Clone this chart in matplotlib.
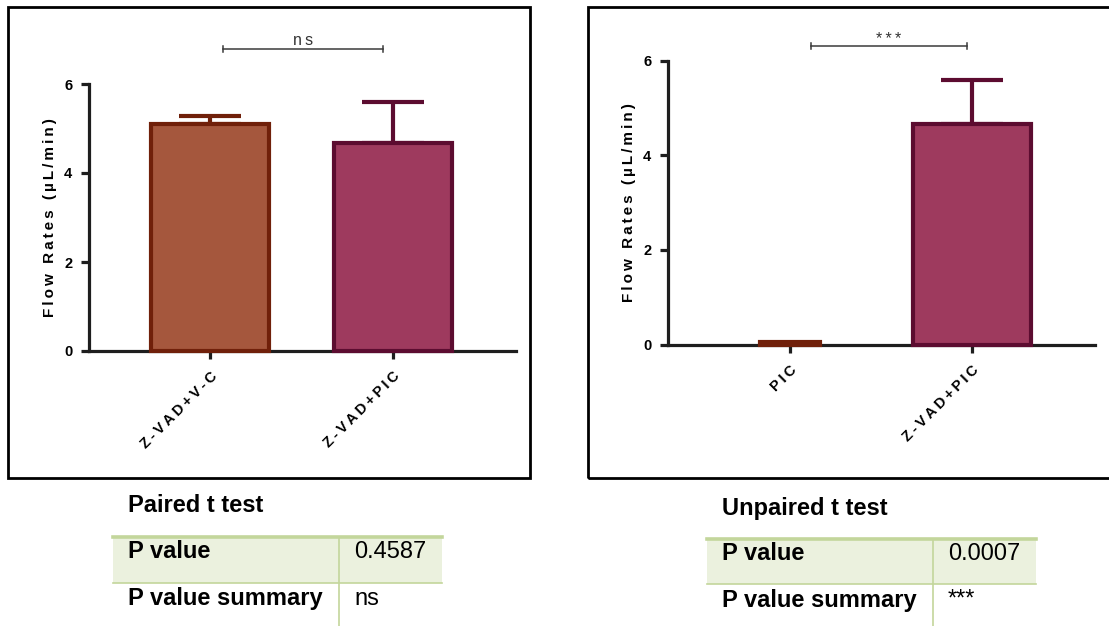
import matplotlib
matplotlib.use("Agg")
import matplotlib.pyplot as plt
from matplotlib.patches import Rectangle
from matplotlib.lines import Line2D

plt.rcParams['font.family'] = ['Liberation Sans', 'DejaVu Sans']

# ---- data ----
left_groups = ["Z-VAD+V-C", "Z-VAD+PIC"]
left_means = [5.10, 4.67]
left_sem = [0.18, 0.93]

right_groups = ["PIC", "Z-VAD+PIC"]
right_means = [0.06, 4.66]
right_sem = [0.0, 0.93]

y_ticks = [0, 2, 4, 6]
y_label = "Flow Rates (\u00b5L/min)"

left_test = "Paired t test"
left_p = "0.4587"
left_summary = "ns"
right_test = "Unpaired t test"
right_p = "0.0007"
right_summary = "***"

# ---- styling ----
W, H = 1109, 626
fill_colors = ["#A5573D", "#9E3A5E"]
edge_colors = ["#70200A", "#5C0C30"]
axis_col = "#1e1e1e"
green_fill = "#EBF1DE"
green_line = "#C3D69B"
THIN = "\u2009"

fig = plt.figure(figsize=(W / 100, H / 100), dpi=100)


def tracked(s):
    """Widen letter tracking the way the graphing package renders labels."""
    return THIN.join(s)


def fx(px):
    return px / W


def fy(py):
    return 1 - py / H


def make_axes(x0, x1, y0, y6, c0, c1):
    ax = fig.add_axes([fx(x0), fy(y0), (x1 - x0) / W, (y0 - y6) / H])
    unit = c1 - c0
    ax.set_xlim((x0 - c0) / unit, (x1 - c0) / unit)
    ax.set_ylim(0, 6)
    for s in ("top", "right"):
        ax.spines[s].set_visible(False)
    for s in ("left", "bottom"):
        ax.spines[s].set_linewidth(2.3)
        ax.spines[s].set_color(axis_col)
    ax.tick_params(axis="both", length=6, width=2.3, color=axis_col)
    ax.tick_params(axis="y", pad=6, labelsize=10.5)
    ax.tick_params(axis="x", pad=7, labelsize=10.5)
    ax.set_yticks(y_ticks)
    for lab in ax.get_yticklabels():
        lab.set_fontweight("bold")
    ax.patch.set_alpha(0)
    return ax


def draw_bars(ax, means, sems, widths, fills, edges, labels):
    xs = list(range(len(means)))
    ax.bar(xs, means, width=widths, color=fills, edgecolor=edges,
           linewidth=3.0, zorder=3, clip_on=False)
    for x, m, e, ec in zip(xs, means, sems, edges):
        if e > 0:
            ax.errorbar([x], [m], yerr=[[0], [e]], fmt="none", ecolor=ec,
                        elinewidth=3.0, capsize=22, capthick=3.0,
                        zorder=2, clip_on=False)
    ax.set_xticks(xs)
    ax.set_xticklabels([tracked(l) for l in labels], rotation=45, ha="right",
                       rotation_mode="anchor", fontweight="bold")


def bracket(ax, xa, xb, y, text, dy_text):
    ax.plot([xa, xb], [y, y], color="#3a3a3a", lw=1.1, clip_on=False)
    tick = 0.07
    for xv in (xa, xb):
        ax.plot([xv, xv], [y - tick, y + tick], color="#3a3a3a", lw=1.1,
                clip_on=False)
    ax.text((xa + xb) / 2, y + dy_text, tracked(text), ha="center",
            va="bottom", fontsize=11.5, color="#333333")


# left panel
axL = make_axes(89, 516, 351, 84, 210, 393)
draw_bars(axL, left_means, left_sem, [0.65, 0.65], fill_colors, edge_colors,
          left_groups)
bracket(axL, 0.071, 0.945, 6.79, left_summary, 0.02)
axL.set_ylabel(tracked(y_label), fontsize=11, fontweight="bold", labelpad=5)

# right panel
axR = make_axes(668, 1095, 344.5, 60.5, 790, 972)
draw_bars(axR, right_means, right_sem, [0.33, 0.65],
          [edge_colors[0], fill_colors[1]], [edge_colors[0], edge_colors[1]],
          right_groups)
bracket(axR, 0.115, 0.973, 6.31, right_summary, -0.02)
axR.set_ylabel(tracked(y_label), fontsize=11, fontweight="bold", labelpad=5)

# frames around each graph
fig.add_artist(Rectangle((fx(8), fy(478)), (530 - 8) / W, (478 - 7) / H,
                         transform=fig.transFigure, fill=False,
                         edgecolor="black", lw=2.0))
fig.add_artist(Rectangle((fx(588), fy(478)), (1120 - 588) / W, (478 - 7) / H,
                         transform=fig.transFigure, fill=False,
                         edgecolor="black", lw=2.0))


def stats_table(x_left, x_right, x_div, y_top, y_mid, title, title_y,
                p_val, summary):
    fig.add_artist(Rectangle((fx(x_left), fy(y_mid)), (x_right - x_left) / W,
                             (y_mid - y_top) / H, transform=fig.transFigure,
                             facecolor=green_fill, edgecolor="none"))
    fig.add_artist(Line2D([fx(x_left), fx(x_right)], [fy(y_top), fy(y_top)],
                          transform=fig.transFigure, color=green_line, lw=2.6))
    fig.add_artist(Line2D([fx(x_left), fx(x_right)], [fy(y_mid), fy(y_mid)],
                          transform=fig.transFigure, color=green_line, lw=1.2))
    fig.add_artist(Line2D([fx(x_div), fx(x_div)], [fy(y_top), fy(628)],
                          transform=fig.transFigure, color=green_line, lw=1.2))
    tx = x_left + 15
    fs = 17
    fig.text(fx(tx), fy(title_y), title, fontsize=fs, fontweight="bold",
             va="center", ha="left")
    fig.text(fx(tx), fy(y_top + 15), "P value", fontsize=fs,
             fontweight="bold", va="center", ha="left")
    fig.text(fx(tx), fy(y_mid + 16), "P value summary", fontsize=fs,
             fontweight="bold", va="center", ha="left")
    fig.text(fx(x_div + 15), fy(y_top + 15), p_val, fontsize=fs,
             va="center", ha="left")
    fig.text(fx(x_div + 15), fy(y_mid + 16), summary, fontsize=fs,
             va="center", ha="left")


stats_table(113, 442, 339, 537, 583, left_test, 506, left_p, left_summary)
stats_table(707, 1036, 933, 539, 584, right_test, 508, right_p, right_summary)

fig.savefig("out.png", dpi=100)
